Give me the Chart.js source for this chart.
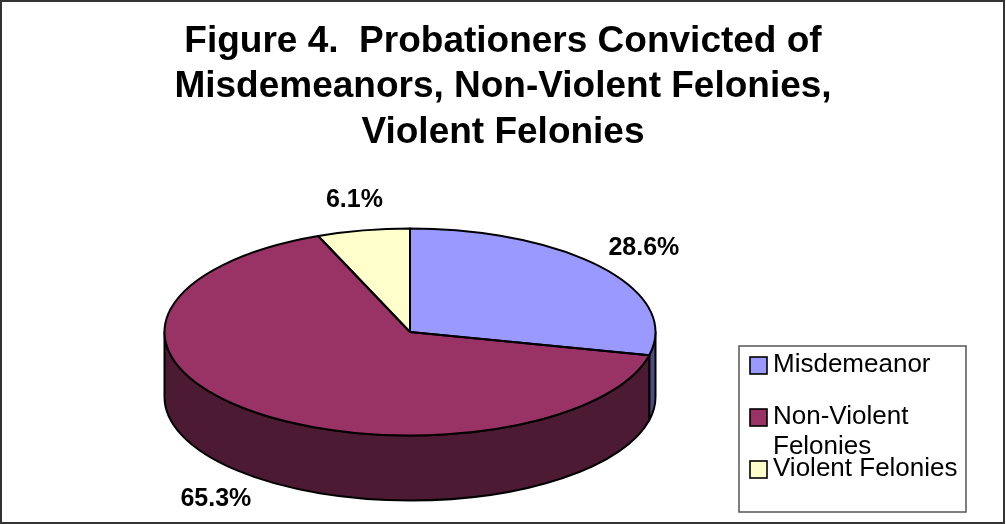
<!DOCTYPE html>
<html>
<head>
<meta charset="utf-8">
<title>Figure 4</title>
<script src="https://cdn.jsdelivr.net/npm/chart.js@4.4.1/dist/chart.umd.min.js"></script>
<style>
  html, body { margin: 0; padding: 0; background: #fff; }
  #wrap { width: 1006px; height: 524px; }
</style>
</head>
<body>
<div id="wrap"><canvas id="pie-chart" width="1006" height="524"></canvas></div>
<script>
const categories = ["Misdemeanor", "Non-Violent Felonies", "Violent Felonies"];
const legendLines = [["Misdemeanor"], ["Non-Violent", "Felonies"], ["Violent Felonies"]];
const shares = [28.6, 65.3, 6.1];
const sliceColors = ["#9999FF", "#993366", "#FFFFCC"];
const titleLines = [
  "Figure 4.  Probationers Convicted of",
  "Misdemeanors, Non-Violent Felonies,",
  "Violent Felonies"
];

const FONT = "'Liberation Sans', Arial, Helvetica, sans-serif";
const TILT = 0.4216;        // how much the round top is squashed
const DEPTH = 65;           // thickness of the pie wall
const LEGEND_COLUMN = 186;  // width reserved on the right for the legend

// darker shade for the pie wall
function shade(hex) {
  const n = parseInt(hex.slice(1), 16);
  const r = (n >> 16) & 255, g = (n >> 8) & 255, b = n & 255;
  return "rgb(" + Math.round(r / 2) + "," + Math.round(g / 2) + "," + Math.round(b / 2) + ")";
}

function drawLegend(chart) {
  const ctx = chart.ctx;
  const w = 227, h = 166;
  const left = chart.width - 40 - w;
  const top = chart.height - 12 - h;
  ctx.save();
  ctx.strokeStyle = "#555";
  ctx.lineWidth = 1.5;
  ctx.strokeRect(left, top, w, h);
  ctx.font = "26px " + FONT;
  ctx.textBaseline = "middle";
  ctx.textAlign = "left";
  legendLines.forEach(function (lines, i) {
    const y = top + 19 + i * 52;
    ctx.fillStyle = sliceColors[i];
    ctx.fillRect(left + 11, y - 8, 17, 17);
    ctx.strokeStyle = "#000";
    ctx.lineWidth = 1.6;
    ctx.strokeRect(left + 11, y - 8, 17, 17);
    ctx.fillStyle = "#000";
    lines.forEach(function (line, j) {
      ctx.fillText(line, left + 34, y + j * 30);
    });
  });
  ctx.restore();
}

const pie3d = {
  id: "pie3d",
  beforeInit(chart) {
    // empty column on the right so the pie sits left of centre
    Chart.layouts.addBox(chart, {
      position: "right",
      weight: 0,
      fullSize: false,
      options: {},
      left: 0, top: 0, right: 0, bottom: 0, width: 0, height: 0,
      isHorizontal() { return false; },
      update(maxWidth, maxHeight) { this.width = LEGEND_COLUMN; this.height = maxHeight; },
      getPadding() { return { top: 0, left: 0, right: 0, bottom: 0 }; },
      draw() { drawLegend(chart); }
    });
  },
  beforeDraw(chart) {
    const ctx = chart.ctx;
    ctx.save();
    ctx.strokeStyle = "#333";
    ctx.lineWidth = 2;
    ctx.strokeRect(1, 1, chart.width - 3, chart.height - 2);
    ctx.restore();
  },
  beforeDatasetsDraw(chart) {
    const ctx = chart.ctx;
    const arcs = chart.getDatasetMeta(0).data;
    // front wall, only the part facing the viewer (angles 0..PI)
    arcs.forEach(function (arc, i) {
      const a0 = Math.max(arc.startAngle, 0);
      const a1 = Math.min(arc.endAngle, Math.PI);
      if (a0 >= a1) return;
      const cx = arc.x, cy = arc.y, rx = arc.outerRadius, ry = rx * TILT;
      ctx.save();
      ctx.beginPath();
      ctx.moveTo(cx + rx * Math.cos(a0), cy + ry * Math.sin(a0));
      ctx.ellipse(cx, cy, rx, ry, 0, a0, a1);
      ctx.lineTo(cx + rx * Math.cos(a1), cy + ry * Math.sin(a1) + DEPTH);
      ctx.ellipse(cx, cy + DEPTH, rx, ry, 0, a1, a0, true);
      ctx.closePath();
      ctx.fillStyle = shade(sliceColors[i]);
      ctx.fill();
      ctx.strokeStyle = "#000";
      ctx.lineWidth = 2;
      ctx.lineJoin = "round";
      ctx.stroke();
      ctx.restore();
    });
    // squash the slices into the tilted top face
    const c = arcs[0];
    ctx.save();
    ctx.translate(c.x, c.y);
    ctx.scale(1, TILT);
    ctx.translate(-c.x, -c.y);
  },
  afterDatasetsDraw(chart) {
    const ctx = chart.ctx;
    ctx.restore();
    const arcs = chart.getDatasetMeta(0).data;
    ctx.save();
    ctx.strokeStyle = "#000";
    ctx.lineWidth = 2;
    ctx.lineJoin = "round";
    arcs.forEach(function (arc) {
      const cx = arc.x, cy = arc.y, rx = arc.outerRadius, ry = rx * TILT;
      ctx.beginPath();
      ctx.moveTo(cx, cy);
      ctx.lineTo(cx + rx * Math.cos(arc.startAngle), cy + ry * Math.sin(arc.startAngle));
      ctx.ellipse(cx, cy, rx, ry, 0, arc.startAngle, arc.endAngle);
      ctx.closePath();
      ctx.stroke();
    });
    // percentage labels just outside each slice
    ctx.font = "bold 25px " + FONT;
    ctx.fillStyle = "#000";
    ctx.textAlign = "center";
    ctx.textBaseline = "middle";
    arcs.forEach(function (arc, i) {
      const cx = arc.x, cy = arc.y, rx = arc.outerRadius, ry = rx * TILT;
      const m = (arc.startAngle + arc.endAngle) / 2;
      const text = shares[i].toFixed(1) + "%";
      const tw = ctx.measureText(text).width;
      let px = cx + rx * Math.cos(m);
      let py = cy + ry * Math.sin(m);
      if (Math.sin(m) > 0) py += DEPTH;
      const gap = 18;
      ctx.fillText(text, px + Math.cos(m) * (tw / 2 + gap), py + Math.sin(m) * (12.5 + gap));
    });
    ctx.restore();
  }
};

new Chart(document.getElementById("pie-chart"), {
  type: "pie",
  data: {
    labels: categories,
    datasets: [{
      data: shares,
      backgroundColor: sliceColors,
      borderWidth: 0,
      radius: 245.5,
      clip: 800
    }]
  },
  options: {
    responsive: false,
    animation: false,
    events: [],
    layout: { padding: { top: 0, left: 0, right: 0, bottom: 15.5 } },
    plugins: {
      legend: { display: false },
      tooltip: { enabled: false },
      title: {
        display: true,
        text: titleLines,
        color: "#000",
        font: { family: FONT, size: 37, weight: "bold", lineHeight: 1.23 },
        padding: { top: 19, bottom: 0 }
      }
    }
  },
  plugins: [pie3d]
});
</script>
</body>
</html>
